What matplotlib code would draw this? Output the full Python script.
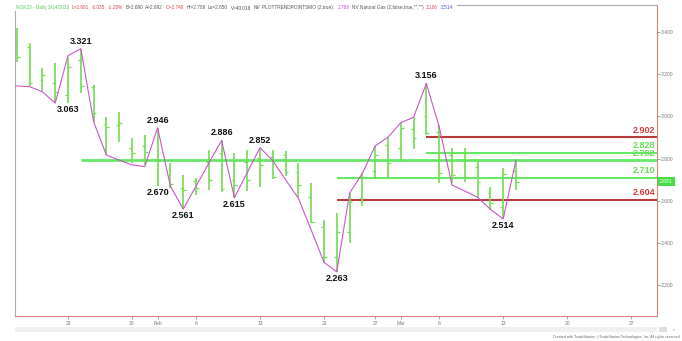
import numpy as np
import pandas as pd
import matplotlib
matplotlib.use('Agg')
import matplotlib.pyplot as plt
from matplotlib.patches import Rectangle

plt.rcParams['font.family'] = ['Liberation Sans', 'DejaVu Sans']

# trading days shown on the axis (Presidents Day skipped)
days = pd.bdate_range('2023-01-17', '2023-03-31')
days = days[days != pd.Timestamp('2023-02-20')]
n_bars = 40

# daily OHLC
opens  = [3.346, 3.330, 3.172, 3.157, 3.100, 3.267, 3.140, 2.962, 2.960, 2.849,
          2.860, 2.800, 2.750, 2.659, 2.695, 2.785, 2.825, 2.699, 2.785, 2.801,
          2.809, 2.817, 2.738, 2.620, 2.477, 2.335, 2.450, 2.612, 2.740, 2.864,
          2.849, 2.939, 3.000, 2.928, 2.817, 2.825, 2.760, 2.636, 2.572, 2.740]
highs  = [3.418, 3.346, 3.228, 3.252, 3.283, 3.321, 3.149, 2.999, 3.022, 2.896,
          2.912, 2.946, 2.778, 2.722, 2.707, 2.841, 2.886, 2.825, 2.841, 2.852,
          2.841, 2.838, 2.778, 2.683, 2.509, 2.544, 2.636, 2.730, 2.860, 2.901,
          2.970, 2.996, 3.156, 2.959, 2.849, 2.849, 2.797, 2.667, 2.754, 2.789]
lows   = [3.259, 3.146, 3.120, 3.068, 3.063, 3.109, 2.975, 2.817, 2.880, 2.778,
          2.770, 2.670, 2.659, 2.561, 2.627, 2.651, 2.643, 2.615, 2.648, 2.664,
          2.703, 2.718, 2.612, 2.493, 2.309, 2.263, 2.400, 2.575, 2.702, 2.707,
          2.790, 2.844, 2.912, 2.683, 2.683, 2.691, 2.612, 2.556, 2.514, 2.650]
closes = [3.283, 3.157, 3.196, 3.117, 3.236, 3.146, 3.018, 2.950, 2.967, 2.825,
          2.830, 2.790, 2.680, 2.651, 2.659, 2.699, 2.654, 2.675, 2.699, 2.770,
          2.714, 2.738, 2.675, 2.501, 2.335, 2.450, 2.596, 2.711, 2.817, 2.780,
          2.944, 2.896, 2.920, 2.730, 2.722, 2.715, 2.691, 2.590, 2.726, 2.691]

# trend points line (magenta)
trend = [3.144, 3.141, 3.117, 3.063, 3.288, 3.321, 2.975, 2.817, 2.793, 2.770,
         2.762, 2.946, 2.670, 2.561, 2.669, 2.778, 2.886, 2.615, 2.733, 2.852,
         2.790, 2.700, 2.612, 2.462, 2.309, 2.263, 2.636, 2.730, 2.860, 2.901,
         2.970, 2.996, 3.156, 2.951, 2.675, 2.646, 2.617, 2.560, 2.514, 2.793]

# swing labels
piv_dates = ['2023-01-24', '2023-01-23', '2023-02-01', '2023-02-01', '2023-02-03',
             '2023-02-08', '2023-02-09', '2023-02-13', '2023-02-22', '2023-03-03',
             '2023-03-13']
piv_vals = [3.321, 3.063, 2.946, 2.670, 2.561, 2.886, 2.615, 2.852, 2.263, 3.156, 2.514]
piv_kind = ['H', 'L', 'H', 'L', 'L', 'H', 'L', 'H', 'L', 'H', 'L']

# horizontal levels
levels = [2.902, 2.828, 2.792, 2.710, 2.604]
level_start = ['2023-03-03', '2023-03-03', '2023-01-24', '2023-02-22', '2023-02-22']
level_kind = ['r', 'g', 'g', 'g', 'r']

tick_dates = ['2023-01-23', '2023-01-30', '2023-02-01', '2023-02-06', '2023-02-13',
              '2023-02-21', '2023-02-27', '2023-03-01', '2023-03-06', '2023-03-13',
              '2023-03-20', '2023-03-27']

last_price = 2.691

def idx(d):
    return int(np.where(days == pd.Timestamp(d))[0][0])

bar_green = '#6fdd4f'
line_green = '#66e866'
lab_green = '#66dd55'
line_red = '#b83a3a'
lab_red = '#d23c3c'

fig = plt.figure(figsize=(6.82, 3.41), dpi=100)
ax = fig.add_axes([15/682, 25/341, 642/682, 311/341])
ax.set_xlim(-0.14, 50.02)
ax.set_ylim(2.054, 3.528)

x = np.arange(n_bars)
ax.vlines(x, lows, highs, color=bar_green, lw=1.2, zorder=3)
ax.hlines(opens, x - 0.22, x, color=bar_green, lw=0.9, zorder=3)
ax.hlines(closes, x, x + 0.22, color=bar_green, lw=0.9, zorder=3)

ax.plot(np.concatenate([[-0.14], x]), [trend[0]] + trend, color='#cc55cc', lw=0.8, zorder=4)

xmax = ax.get_xlim()[1]
for lv, st, k in zip(levels, level_start, level_kind):
    c = line_red if k == 'r' else line_green
    lw = 2.0 if lv == 2.792 else 1.5
    ax.hlines(lv, idx(st), xmax, color=c, lw=lw, zorder=2)
    ax.annotate(f'{lv:.3f}', xy=(1.0, lv), xycoords=('axes fraction', 'data'),
                xytext=(-2, 2.5), textcoords='offset pixels', ha='right', va='bottom',
                fontsize=6.5, fontweight='bold',
                color=lab_red if k == 'r' else lab_green, zorder=5)

for d, v, k in zip(piv_dates, piv_vals, piv_kind):
    if k == 'H':
        ax.annotate(f'{v:.3f}', xy=(idx(d), v), xytext=(0, 3), textcoords='offset pixels',
                    ha='center', va='bottom', fontsize=6.5, fontweight='bold', color='#111111')
    else:
        ax.annotate(f'{v:.3f}', xy=(idx(d), v), xytext=(0, -2), textcoords='offset pixels',
                    ha='center', va='top', fontsize=6.5, fontweight='bold', color='#111111')

# axes styling
for s in ['left', 'top']:
    ax.spines[s].set_color('#aaaaaa')
    ax.spines[s].set_linewidth(0.8)
for s in ['right', 'bottom']:
    ax.spines[s].set_color('#d98080')
    ax.spines[s].set_linewidth(0.8)

ax.yaxis.tick_right()
ax.set_yticks(np.arange(2.2, 3.41, 0.2))
ax.set_yticklabels([f'{v:.3f}' for v in np.arange(2.2, 3.41, 0.2)])
ax.tick_params(axis='y', colors='#777777', labelsize=3.6, length=2, width=0.5, pad=1)

tpos = [idx(d) for d in tick_dates]
tlab = []
for d in tick_dates:
    t = pd.Timestamp(d)
    tlab.append(t.strftime('%b') if t.day == 1 else str(t.day))
ax.set_xticks(tpos)
ax.set_xticklabels(tlab)
ax.tick_params(axis='x', colors='#777777', labelsize=3.6, length=2, width=0.5, pad=1.5)

# current price marker on the price scale
ax.annotate(f'{last_price:.3f}', xy=(1.0, last_price), xycoords=('axes fraction', 'data'),
            xytext=(3, 0), textcoords='offset pixels', ha='left', va='center',
            fontsize=3.6, color='white',
            bbox=dict(boxstyle='square,pad=0.4', fc='#44dd44', ec='none'),
            annotation_clip=False, zorder=6)

# header with coloured pieces
header = [('NGK23 - Daily 3/14/2023', '#55cc55'), ('L=2.691', '#dd4444'),
          ('-0.035', '#dd4444'), ('-1.28%', '#dd4444'), ('B=2.690', '#555555'),
          ('A=2.692', '#555555'), ('O=2.740', '#dd4444'), ('Hi=2.789', '#555555'),
          ('Lo=2.650', '#555555'), ('V=40,018', '#555555'), ('NV', '#555555'),
          ('PLOTTRENDPOINTSMO (2,true):', '#555555'), ('2.789', '#cc44cc'),
          ('NV Natural Gas (2,false,true,"","")', '#555555'), ('3.106', '#dd4444'),
          ('2.514', '#4455cc')]
fig.canvas.draw()
r = fig.canvas.get_renderer()
hx = 16
for txt, col in header:
    t = fig.text(hx / 682, 1 - 7.5 / 341, txt, fontsize=3.4, color=col, va='center',
                 ha='left', zorder=4)
    bb = t.get_window_extent(renderer=r)
    hx += bb.width + 2.5
fig.patches.append(Rectangle((14/682, 1 - 11/341), (hx - 12)/682, 8/341,
                             transform=fig.transFigure, fc='white', ec='none', zorder=2))

# scroll strip and credit line
fig.patches.append(Rectangle((15/682, 1 - 332/341), 642/682, 5/341,
                             transform=fig.transFigure, fc='#f0f0f0', ec='none'))
fig.patches.append(Rectangle((659/682, 1 - 332/341), 8/682, 5/341,
                             transform=fig.transFigure, fc='#dddddd', ec='none'))
fig.text(674/682, 1 - 329.5/341, '›', fontsize=4, color='#888888', ha='center', va='center')
fig.text(680/682, 1 - 337/341,
         'Created with TradeStation. \u00a9TradeStation Technologies, Inc. All rights reserved',
         fontsize=2.6, color='#666666', ha='right', va='center')

fig.savefig('out.png', dpi=100)
